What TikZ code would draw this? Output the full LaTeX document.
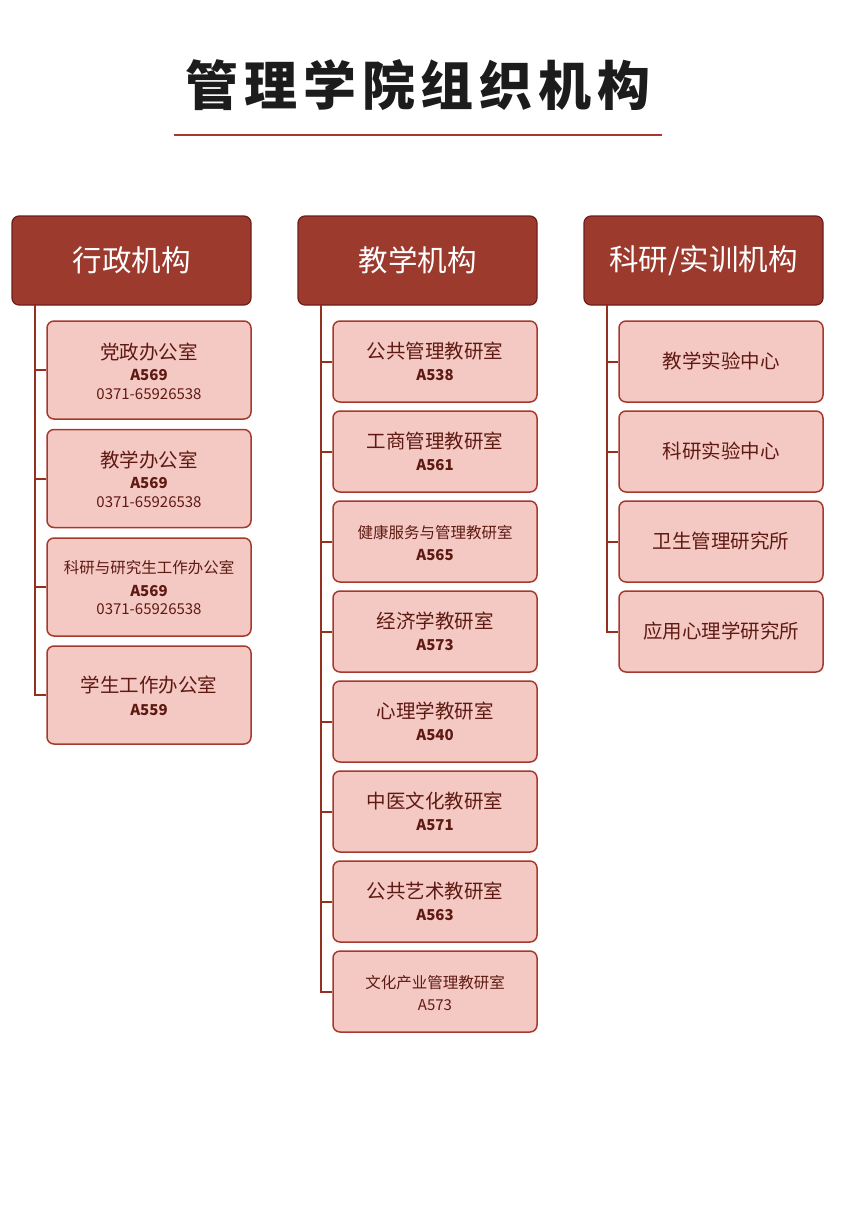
\documentclass[tikz,border=0pt]{standalone}
\usepackage{fontspec}
\usetikzlibrary{calc}
\setmainfont{Noto Sans CJK SC}
\definecolor{hdrfill}{HTML}{9C3A2E}
\definecolor{hdrborder}{HTML}{6E1F17}
\definecolor{cellfill}{HTML}{F4C9C3}
\definecolor{cellborder}{HTML}{A6392D}
\definecolor{txt}{HTML}{5E1A12}
\definecolor{linecol}{HTML}{93301F}
\definecolor{titlecol}{HTML}{1C1C1C}
\begin{document}
\begin{tikzpicture}[x=1pt,y=-1pt,
 hdr/.style={draw=hdrborder, fill=hdrfill, rounded corners=7pt, line width=1.2pt, minimum width=239pt, minimum height=89pt, inner sep=0pt, text=white, font=\fontsize{29.5}{31}\selectfont},
 cell/.style={draw=cellborder, fill=cellfill, rounded corners=7pt, line width=1.5pt, minimum width=204pt, inner sep=0pt},
 tall/.style={cell, minimum height=98pt},
 short/.style={cell, minimum height=81pt},
 tmain/.style={text=txt, inner sep=0pt, font=\fontsize{19.5}{20}\selectfont},
 tsmall/.style={text=txt, inner sep=0pt, font=\fontsize{15.5}{17}\selectfont},
 tcode/.style={text=txt, inner sep=0pt, font=\bfseries\fontsize{15}{16}\selectfont},
 tphone/.style={text=txt, inner sep=0pt, font=\fontsize{15}{16}\selectfont},
 conn/.style={draw=linecol, line width=2pt}]
\useasboundingbox (0,0) rectangle (850,1232);
% title
\node[text=titlecol, inner sep=0pt, font=\bfseries\fontsize{53}{56}\selectfont\addfontfeature{LetterSpace=11}] (title) at (418,85) {管理学院组织机构};
\coordinate (ulL) at (174,135);
\coordinate (ulR) at (662,135);
\draw[draw=cellborder, line width=2pt] (ulL) -- (ulR);
% headers
\node[hdr] (h1) at (131.5,260.5) {行政机构};
\node[hdr] (h2) at (417.5,260.5) {教学机构};
\node[hdr] (h3) at (703.5,260.5) {科研/实训机构};
% column 1
\node[tall] (a1) at (149,370) {};
\node[tmain] (a1t) at ($(a1)+(0,-18)$) {党政办公室};
\node[tcode] (a1c) at ($(a1)+(0,5)$) {A569};
\node[tphone] (a1p) at ($(a1)+(0,24)$) {0371-65926538};
\node[tall] (a2) at (149,478.5) {};
\node[tmain] (a2t) at ($(a2)+(0,-18)$) {教学办公室};
\node[tcode] (a2c) at ($(a2)+(0,5)$) {A569};
\node[tphone] (a2p) at ($(a2)+(0,24)$) {0371-65926538};
\node[tall] (a3) at (149,587) {};
\node[tsmall] (a3t) at ($(a3)+(0,-19)$) {科研与研究生工作办公室};
\node[tcode] (a3c) at ($(a3)+(0,4)$) {A569};
\node[tphone] (a3p) at ($(a3)+(0,22)$) {0371-65926538};
\node[tall] (a4) at (149,695) {};
\node[tmain] (a4t) at ($(a4)+(0,-10)$) {学生工作办公室};
\node[tcode] (a4c) at ($(a4)+(0,15)$) {A559};
% column 2
\node[short] (b1) at (435,361.5) {};
\node[tmain] (b1t) at ($(b1)+(0,-10)$) {公共管理教研室};
\node[tcode] (b1c) at ($(b1)+(0,14)$) {A538};
\node[short] (b2) at (435,451.5) {};
\node[tmain] (b2t) at ($(b2)+(0,-10)$) {工商管理教研室};
\node[tcode] (b2c) at ($(b2)+(0,14)$) {A561};
\node[short] (b3) at (435,541.5) {};
\node[tsmall] (b3t) at ($(b3)+(0,-9)$) {健康服务与管理教研室};
\node[tcode] (b3c) at ($(b3)+(0,14)$) {A565};
\node[short] (b4) at (435,631.5) {};
\node[tmain] (b4t) at ($(b4)+(0,-10)$) {经济学教研室};
\node[tcode] (b4c) at ($(b4)+(0,14)$) {A573};
\node[short] (b5) at (435,721.5) {};
\node[tmain] (b5t) at ($(b5)+(0,-10)$) {心理学教研室};
\node[tcode] (b5c) at ($(b5)+(0,14)$) {A540};
\node[short] (b6) at (435,811.5) {};
\node[tmain] (b6t) at ($(b6)+(0,-10)$) {中医文化教研室};
\node[tcode] (b6c) at ($(b6)+(0,14)$) {A571};
\node[short] (b7) at (435,901.5) {};
\node[tmain] (b7t) at ($(b7)+(0,-10)$) {公共艺术教研室};
\node[tcode] (b7c) at ($(b7)+(0,14)$) {A563};
\node[short] (b8) at (435,991.5) {};
\node[tsmall] (b8t) at ($(b8)+(0,-9)$) {文化产业管理教研室};
\node[tphone] (b8c) at ($(b8)+(0,14)$) {A573};
% column 3
\node[short] (c1) at (721,361.5) {};
\node[tmain] (c1t) at (c1) {教学实验中心};
\node[short] (c2) at (721,451.5) {};
\node[tmain] (c2t) at (c2) {科研实验中心};
\node[short] (c3) at (721,541.5) {};
\node[tmain] (c3t) at (c3) {卫生管理研究所};
\node[short] (c4) at (721,631.5) {};
\node[tmain] (c4t) at (c4) {应用心理学研究所};
% connectors
\coordinate (t1) at (35,305);
\coordinate (t2) at (321,305);
\coordinate (t3) at (607,305);
\draw[conn] (t1) |- (a4.west);
\foreach \n in {a1,a2,a3} \draw[conn] (t1 |- \n.west) -- (\n.west);
\draw[conn] (t2) |- (b8.west);
\foreach \n in {b1,b2,b3,b4,b5,b6,b7} \draw[conn] (t2 |- \n.west) -- (\n.west);
\draw[conn] (t3) |- (c4.west);
\foreach \n in {c1,c2,c3} \draw[conn] (t3 |- \n.west) -- (\n.west);
\end{tikzpicture}
\end{document}
